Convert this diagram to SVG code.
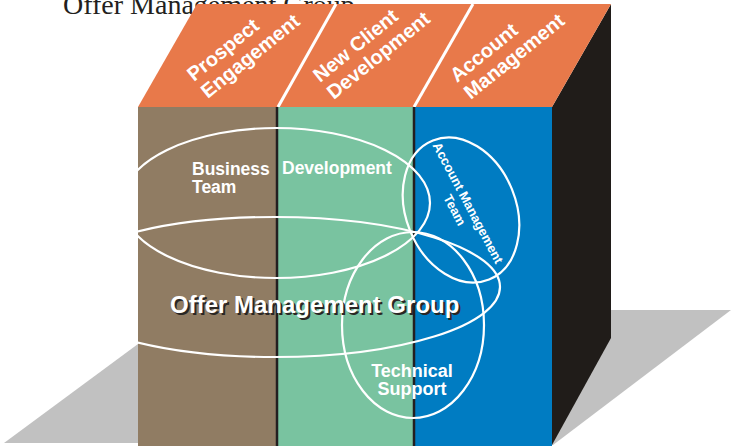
<svg xmlns="http://www.w3.org/2000/svg" width="731" height="446" viewBox="0 0 731 446">
<defs>
<style>
.ring{fill:none;stroke:#ffffff;stroke-width:2.2}
.lbl{font-family:"Liberation Sans",Arial,sans-serif;font-weight:bold;fill:#ffffff}
.top{font-size:20px}
.mid{font-size:17.5px}
.big{font-size:24px}
.shadow{fill:#2a2624}
.sep{stroke:#231f20;stroke-width:2.5}
.wsep{stroke:#ffffff;stroke-width:3}
</style>
<clipPath id="face"><rect x="138" y="107" width="414" height="339"/></clipPath>
</defs>
<rect width="731" height="446" fill="#ffffff"/>
<text x="63" y="14" font-family="'Liberation Serif','Times New Roman',serif" font-size="28" fill="#231f20">Offer Management Group</text>
<g id="shadow">
<polygon points="138,344 4,443 138,443" fill="#c1c1c1"/>
<polygon points="600,310 731,310 553,445 552,445" fill="#c1c1c1"/>
</g>
<g id="side"><polygon points="552,107 611,4 611,338 552,445" fill="#201c19"/></g>
<g id="roof">
<polygon points="138,107 197,4 611,4 552,107" fill="#e8794a"/>
<line class="wsep" x1="278" y1="107" x2="336" y2="4"/>
<line class="wsep" x1="414" y1="107" x2="473" y2="4"/>
</g>
<g id="col-prospect">
<rect x="138" y="107" width="139" height="339" fill="#907c63"/>
<g transform="translate(194,82) rotate(-39)"><text class="lbl top" x="0" y="0">Prospect</text><text class="lbl top" x="0" y="22">Engagement</text></g>
</g>
<g id="col-newclient">
<rect x="277" y="107" width="137" height="339" fill="#79c3a0"/>
<g transform="translate(320,83) rotate(-39)"><text class="lbl top" x="0" y="0">New Client</text><text class="lbl top" x="0" y="22">Development</text></g>
</g>
<g id="col-account">
<rect x="414" y="107" width="138" height="339" fill="#007cc2"/>
<g transform="translate(457,83) rotate(-39)"><text class="lbl top" x="0" y="0">Account</text><text class="lbl top" x="0" y="22">Management</text></g>
</g>
<g id="dividers">
<line class="sep" x1="277" y1="107" x2="277" y2="446"/>
<line class="sep" x1="414" y1="107" x2="414" y2="446"/>
</g>
<g id="connectors" clip-path="url(#face)">
<ellipse id="ring-business" class="ring" cx="276" cy="203" rx="154" ry="75"/>
<ellipse id="ring-offer" class="ring" cx="275" cy="287" rx="225" ry="70"/>
<ellipse id="ring-account" class="ring" cx="461" cy="210" rx="75" ry="55" transform="rotate(68 461 210)"/>
<ellipse id="ring-technical" class="ring" cx="413" cy="325" rx="71" ry="93"/>
</g>
<g id="business-team">
<text class="lbl mid" x="192" y="175">Business</text>
<text class="lbl mid" x="192" y="193">Team</text>
<text class="lbl mid" x="282" y="174">Development</text>
</g>
<g id="offer-group">
<text class="lbl big shadow" x="172" y="315">Offer Management Group</text>
<text class="lbl big" x="170" y="313">Offer Management Group</text>
</g>
<g id="account-team" transform="translate(464,205) rotate(62)">
<text class="lbl" font-size="13" text-anchor="middle" x="0" y="0">Account Management</text>
<text class="lbl" font-size="13" text-anchor="middle" x="0" y="15">Team</text>
</g>
<g id="technical-support">
<text class="lbl" font-size="18" text-anchor="middle" x="412" y="377">Technical</text>
<text class="lbl" font-size="18" text-anchor="middle" x="412" y="395">Support</text>
</g>
</svg>
